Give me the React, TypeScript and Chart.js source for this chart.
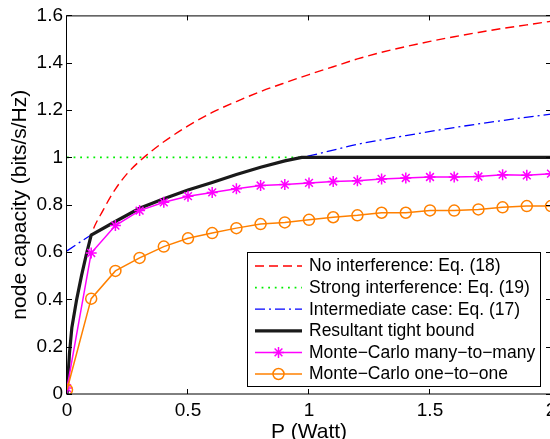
import React, { useEffect, useRef } from 'react';
import { Chart, registerables } from 'chart.js';

Chart.register(...registerables);

const FONT = '"Liberation Sans", Arial, Helvetica, sans-serif';

// Theoretical curves
const theoryP = [0, 0.01, 0.02, 0.04, 0.06, 0.08, 0.1, 0.15, 0.2, 0.25, 0.3, 0.35, 0.4, 0.5, 0.6, 0.7, 0.8, 0.9, 1.0, 1.1, 1.2, 1.3, 1.4, 1.5, 1.6, 1.7, 1.8, 1.9, 2.0];
const noInterference = [0, 0.17, 0.28, 0.4, 0.5, 0.59, 0.672, 0.778, 0.866, 0.933, 0.984, 1.027, 1.066, 1.133, 1.19, 1.236, 1.278, 1.315, 1.35, 1.383, 1.416, 1.444, 1.468, 1.49, 1.51, 1.528, 1.545, 1.56, 1.575];

const strongP = [0, 2];
const strongInterference = [1, 1];

const intermediateP = [0, 0.1, 0.2, 0.3, 0.4, 0.5, 0.6, 0.7, 0.8, 0.9, 1.0, 1.2, 1.4, 1.6, 1.8, 2.0];
const intermediate = [0.605, 0.672, 0.729, 0.785, 0.825, 0.862, 0.894, 0.928, 0.958, 0.985, 1.006, 1.055, 1.092, 1.126, 1.156, 1.183];

const boundP = [0, 0.01, 0.02, 0.04, 0.06, 0.08, 0.1, 0.2, 0.3, 0.4, 0.5, 0.6, 0.7, 0.8, 0.9, 0.97, 2.0];
const tightBound = [0, 0.17, 0.28, 0.4, 0.5, 0.59, 0.672, 0.729, 0.785, 0.825, 0.862, 0.894, 0.928, 0.958, 0.985, 1.0, 1.0];

// Monte-Carlo simulations
const mcP = [0, 0.1, 0.2, 0.3, 0.4, 0.5, 0.6, 0.7, 0.8, 0.9, 1.0, 1.1, 1.2, 1.3, 1.4, 1.5, 1.6, 1.7, 1.8, 1.9, 2.0];
const manyToMany = [0.025, 0.596, 0.712, 0.775, 0.81, 0.836, 0.852, 0.867, 0.881, 0.885, 0.892, 0.898, 0.901, 0.909, 0.913, 0.917, 0.917, 0.919, 0.927, 0.924, 0.931];
const oneToOne = [0.018, 0.403, 0.52, 0.575, 0.623, 0.658, 0.68, 0.701, 0.718, 0.725, 0.736, 0.747, 0.755, 0.766, 0.766, 0.776, 0.775, 0.78, 0.789, 0.794, 0.794];

const legendLabels = [
  'No interference: Eq. (18)',
  'Strong interference: Eq. (19)',
  'Intermediate case: Eq. (17)',
  'Resultant tight bound',
  'Monte\u2212Carlo many\u2212to\u2212many',
  'Monte\u2212Carlo one\u2212to\u2212one',
];

const xTicks = [0, 0.5, 1, 1.5, 2];

const pts = (xs: number[], ys: number[]) => xs.map((x, i) => ({ x, y: ys[i] }));
const fmt = (v: any) => String(+Number(v).toFixed(2));

const framePlugin = {
  id: 'frame',
  afterDatasetsDraw(chart: any) {
    const { ctx, chartArea: a, scales } = chart;
    ctx.save();
    ctx.strokeStyle = '#000';
    ctx.lineWidth = 1;
    ctx.strokeRect(a.left - 0.5, a.top + 0.5, a.right - a.left, a.bottom - a.top - 0.5);
    const len = 5;
    ctx.beginPath();
    scales.x.ticks.forEach((t: any) => {
      const px = Math.round(scales.x.getPixelForValue(t.value)) - 0.5;
      ctx.moveTo(px, a.bottom);
      ctx.lineTo(px, a.bottom - len);
      ctx.moveTo(px, a.top);
      ctx.lineTo(px, a.top + len);
    });
    scales.y.ticks.forEach((t: any) => {
      const py = Math.round(scales.y.getPixelForValue(t.value)) + 0.5;
      ctx.moveTo(a.left, py);
      ctx.lineTo(a.left + len, py);
      ctx.moveTo(a.right, py);
      ctx.lineTo(a.right - len, py);
    });
    ctx.stroke();
    ctx.restore();
  },
};

const legendPlugin = {
  id: 'boxLegend',
  afterDraw(chart: any) {
    const { ctx, chartArea: a } = chart;
    const datasets = chart.data.datasets;
    const boxRight = a.right - 11;
    const boxBottom = a.bottom - 8;
    const boxW = 293;
    const rowH = 21.6;
    const boxH = 134;
    const left = boxRight - boxW;
    const top = boxBottom - boxH;
    ctx.save();
    ctx.fillStyle = '#fff';
    ctx.fillRect(left, top, boxW, boxH);
    ctx.strokeStyle = '#000';
    ctx.lineWidth = 1;
    ctx.strokeRect(Math.round(left) + 0.5, Math.round(top) + 0.5, boxW, boxH);
    ctx.font = `17.5px ${FONT}`;
    ctx.textBaseline = 'middle';
    ctx.textAlign = 'left';
    datasets.forEach((ds: any, i: number) => {
      const cy = top + 14 + i * rowH;
      const x1 = left + 8;
      const x2 = left + 55;
      ctx.save();
      ctx.strokeStyle = ds.borderColor;
      ctx.lineWidth = ds.borderWidth;
      ctx.setLineDash(ds.borderDash || []);
      ctx.beginPath();
      ctx.moveTo(x1, cy);
      ctx.lineTo(x2, cy);
      ctx.stroke();
      ctx.restore();
      if (ds.pointRadius > 0) {
        ctx.save();
        ctx.strokeStyle = ds.pointBorderColor;
        ctx.fillStyle = ds.pointBackgroundColor;
        ctx.lineWidth = ds.pointBorderWidth;
        const mx = (x1 + x2) / 2;
        const r = ds.pointRadius;
        if (ds.pointStyle === 'circle') {
          ctx.beginPath();
          ctx.arc(mx, cy, r, 0, Math.PI * 2);
          ctx.fill();
          ctx.stroke();
        } else {
          ctx.beginPath();
          for (let k = 0; k < 4; k++) {
            const ang = (k * Math.PI) / 4;
            ctx.moveTo(mx - r * Math.cos(ang), cy - r * Math.sin(ang));
            ctx.lineTo(mx + r * Math.cos(ang), cy + r * Math.sin(ang));
          }
          ctx.stroke();
        }
        ctx.restore();
      }
      ctx.fillStyle = '#000';
      ctx.fillText(legendLabels[i], left + 62, cy + 0.5);
    });
    ctx.restore();
  },
};

export default function App() {
  const ref = useRef<HTMLCanvasElement | null>(null);

  useEffect(() => {
    if (!ref.current) return;
    const chart = new Chart(ref.current, {
      type: 'line',
      data: {
        datasets: [
          {
            label: legendLabels[0],
            data: pts(theoryP, noInterference),
            borderColor: '#ff0000',
            borderWidth: 1.4,
            borderDash: [9, 5],
            pointRadius: 0,
            cubicInterpolationMode: 'monotone',
            order: 6,
          },
          {
            label: legendLabels[1],
            data: pts(strongP, strongInterference),
            borderColor: '#00ee00',
            borderWidth: 1.6,
            borderDash: [1.8, 4.8],
            pointRadius: 0,
            order: 5,
          },
          {
            label: legendLabels[2],
            data: pts(intermediateP, intermediate),
            borderColor: '#0000ff',
            borderWidth: 1.3,
            borderDash: [10, 4, 2, 4],
            pointRadius: 0,
            cubicInterpolationMode: 'monotone',
            order: 4,
          },
          {
            label: legendLabels[3],
            data: pts(boundP, tightBound),
            borderColor: '#1a1a1a',
            borderWidth: 3.2,
            pointRadius: 0,
            order: 3,
          },
          {
            label: legendLabels[4],
            data: pts(mcP, manyToMany),
            borderColor: '#ff00ff',
            borderWidth: 1.5,
            pointStyle: 'star',
            pointRadius: 5.5,
            pointBorderWidth: 1.5,
            pointBorderColor: '#ff00ff',
            pointBackgroundColor: '#ff00ff',
            order: 2,
          },
          {
            label: legendLabels[5],
            data: pts(mcP, oneToOne),
            borderColor: '#ff8000',
            borderWidth: 1.5,
            pointStyle: 'circle',
            pointRadius: 5.5,
            pointBorderWidth: 1.5,
            pointBorderColor: '#ff8000',
            pointBackgroundColor: 'rgba(255,255,255,0)',
            order: 1,
          },
        ] as any,
      },
      options: {
        animation: false,
        responsive: false,
        devicePixelRatio: 1,
        layout: { padding: { left: 0, top: 12, right: 89, bottom: 0 } },
        plugins: {
          legend: { display: false },
          tooltip: { enabled: false },
        },
        scales: {
          x: {
            type: 'linear',
            min: 0,
            max: 2,
            afterBuildTicks: (s: any) => {
              s.ticks = xTicks.map((v) => ({ value: v }));
            },
            afterFit: (s: any) => {
              s.height = 56;
            },
            grid: { display: false, drawTicks: false },
            border: { display: false },
            ticks: {
              padding: 5,
              color: '#000',
              font: { family: FONT, size: 19 },
              maxRotation: 0,
              callback: fmt,
            },
            title: {
              display: true,
              text: 'P (Watt)',
              color: '#000',
              font: { family: FONT, size: 21 },
              padding: { top: 0, bottom: 5 },
            },
          },
          y: {
            type: 'linear',
            min: 0,
            max: 1.6,
            ticks: {
              stepSize: 0.2,
              padding: 4,
              color: '#000',
              font: { family: FONT, size: 19 },
              callback: fmt,
            },
            afterFit: (s: any) => {
              s.width = 67;
            },
            grid: { display: false, drawTicks: false },
            border: { display: false },
            title: {
              display: true,
              text: 'node capacity (bits/s/Hz)',
              color: '#000',
              font: { family: FONT, size: 21 },
              padding: { top: 8, bottom: 0 },
            },
          },
        },
      } as any,
      plugins: [framePlugin, legendPlugin],
    });
    return () => chart.destroy();
  }, []);

  return (
    <div
      style={{
        position: 'fixed',
        left: 0,
        top: 0,
        width: 550,
        height: 439,
        overflow: 'hidden',
        background: '#fff',
      }}
    >
      <canvas ref={ref} width={640} height={450} style={{ display: 'block' }} />
    </div>
  );
}
